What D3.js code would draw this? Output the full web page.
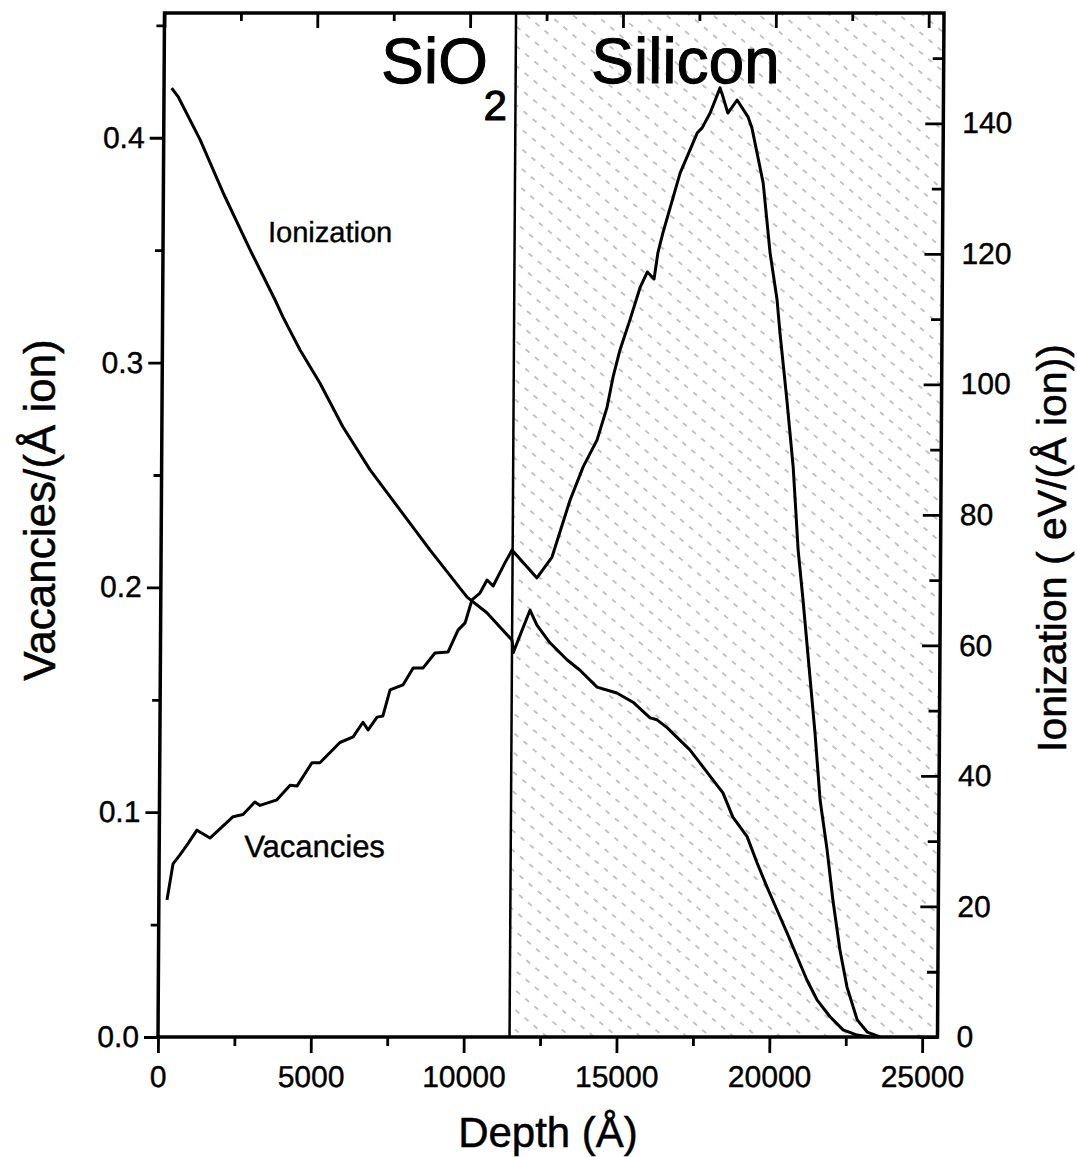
<!DOCTYPE html>
<html>
<head>
<meta charset="utf-8">
<script src="https://cdn.jsdelivr.net/npm/d3@7"></script>
<style>
  body { margin: 0; background: #fff; }
  svg { display: block; }
  text { font-family: "Liberation Sans", Arial, Helvetica, sans-serif; fill: #000; }
</style>
</head>
<body>
<svg id="chart" width="1077" height="1157"></svg>
<script>
// Ionization energy loss, eV/(Å ion), right axis
const ionDepth = [250, 460, 1190, 1950, 2850, 3670, 3940, 4500, 5160, 5920, 6820, 7480, 8800, 10020, 10670, 11500,
  11540, 12080, 12310, 12740, 13300, 13730, 14290, 14940, 15470, 16030, 16260, 16590, 17010, 17340, 17670, 18100,
  18430, 18760, 19230, 19560, 19890, 20220, 20560, 20890, 21220, 21550, 21980, 22410, 22870, 23290];
const ionValue = [145.4, 144.1, 137.5, 129.4, 120.6, 113.0, 110.3, 105.3, 100.2, 93.5, 86.9, 82.8, 74.6, 67.4, 65.0, 60.8,
  58.9, 65.4, 63.1, 60.4, 57.8, 56.2, 53.6, 52.7, 51.3, 48.9, 48.6, 47.4, 45.5, 44.0, 42.0, 39.4,
  37.4, 33.7, 30.7, 26.7, 23.0, 19.5, 15.9, 12.3, 8.7, 5.7, 3.1, 1.1, 0.3, 0];

// Vacancies per Å per ion, left axis
const vacDepth = [266, 455, 680, 940, 1230, 1660, 2410, 2735, 3120, 3290, 3840, 4270, 4500, 4980, 5240, 5890, 6320,
  6640, 6810, 7100, 7290, 7520, 7940, 8270, 8590, 8980, 9410, 9730, 9960, 10180, 10440, 10670, 10870, 11250, 11480,
  12300, 12790, 13370, 13790, 14240, 14560, 14750, 14970, 15290, 15620, 15850, 16070, 16190, 16350, 16900, 17450,
  17610, 17870, 18190, 18290, 18450, 18750, 19110, 19240, 19620, 19860, 20100, 20200, 20440, 20660, 20840, 21010,
  21430, 21610, 21850, 22050, 22290, 22530, 22870, 23200, 23620];
const vacValue = [0.061, 0.077, 0.081, 0.086, 0.092, 0.0885, 0.098, 0.099, 0.1045, 0.103, 0.1055, 0.112, 0.1117, 0.122,
  0.122, 0.131, 0.1335, 0.140, 0.1366, 0.1423, 0.1428, 0.1544, 0.1566, 0.1641, 0.1641, 0.1708, 0.1713, 0.181, 0.1842,
  0.1944, 0.1975, 0.2033, 0.2006, 0.2109, 0.2166, 0.2042, 0.2135, 0.2389, 0.2536, 0.2656, 0.2802, 0.2936, 0.3056,
  0.319, 0.3336, 0.3403, 0.3372, 0.3488, 0.3577, 0.3843, 0.4021, 0.4044, 0.411, 0.4222, 0.4181, 0.411, 0.4168,
  0.4093, 0.4044, 0.3799, 0.3488, 0.3278, 0.3132, 0.2834, 0.2536, 0.2166, 0.1944, 0.1352, 0.1054, 0.0832, 0.0609,
  0.0387, 0.0222, 0.0076, 0.0022, 0];

// SiO2 / Si boundary depth (Å)
const interfaceDepth = 11500;

// Axis ticks
const depthTicks = [0, 5000, 10000, 15000, 20000, 25000];
const depthMinor = [2500, 7500, 12500, 17500, 22500];
const vacTicks = [0.0, 0.1, 0.2, 0.3, 0.4];
const vacMinor = [0.05, 0.15, 0.25, 0.35, 0.45];
const ionTicks = [0, 20, 40, 60, 80, 100, 120, 140];
const ionMinor = [10, 30, 50, 70, 90, 110, 130, 150];

(function draw() {
  const svg = d3.select("#chart");
  const pLeft = 158, pRight = 937.5, pTop = 13, pBottom = 1037;

  const x = d3.scaleLinear().domain([0, 25500]).range([pLeft, pRight]);
  const yVac = d3.scaleLinear().domain([0, 0.4555]).range([pBottom, pTop]);
  const yIon = d3.scaleLinear().domain([0, 156.9]).range([pBottom, pTop]);

  // diagonal hatch for the silicon substrate
  const defs = svg.append("defs");
  const pat = defs.append("pattern")
    .attr("id", "hatch")
    .attr("patternUnits", "userSpaceOnUse")
    .attr("width", 12).attr("height", 15)
    .attr("patternTransform", "rotate(40)");
  pat.append("line")
    .attr("x1", 0).attr("y1", 7.5).attr("x2", 12).attr("y2", 7.5)
    .attr("stroke", "#000").attr("stroke-width", 1)
    .attr("stroke-dasharray", "5 7").attr("stroke-opacity", 0.45);

  // whole frame leans very slightly, as the printed figure does
  const g = svg.append("g")
    .attr("transform", `translate(0,${pBottom}) skewX(-0.364) translate(0,${-pBottom})`);

  g.append("rect")
    .attr("x", x(interfaceDepth)).attr("y", pTop)
    .attr("width", x(25500) - x(interfaceDepth)).attr("height", pBottom - pTop)
    .attr("fill", "url(#hatch)");

  g.append("line")
    .attr("x1", x(interfaceDepth)).attr("x2", x(interfaceDepth))
    .attr("y1", pTop).attr("y2", pBottom)
    .attr("stroke", "#000").attr("stroke-width", 2.5);

  const ionLine = d3.line().x(d => x(d[0])).y(d => yIon(d[1]));
  const vacLine = d3.line().x(d => x(d[0])).y(d => yVac(d[1]));

  g.append("path")
    .datum(d3.zip(ionDepth, ionValue))
    .attr("d", ionLine)
    .attr("fill", "none").attr("stroke", "#000").attr("stroke-width", 3)
    .attr("stroke-linejoin", "round");

  g.append("path")
    .datum(d3.zip(vacDepth, vacValue))
    .attr("d", vacLine)
    .attr("fill", "none").attr("stroke", "#000").attr("stroke-width", 3)
    .attr("stroke-linejoin", "round");

  // axes
  function styleAxis(sel) {
    sel.selectAll("path.domain").remove();
    sel.selectAll(".tick line").attr("stroke", "#000").attr("stroke-width", 2.8);
    sel.selectAll(".tick text").attr("font-size", 30)
      .attr("stroke", "#000").attr("stroke-width", 0.4);
    sel.attr("font-family", null).attr("font-size", null);
  }

  g.append("g").attr("transform", `translate(0,${pBottom})`)
    .call(d3.axisBottom(x).tickValues(depthTicks).tickFormat(d3.format("d")).tickSize(16).tickPadding(13))
    .call(styleAxis);
  g.append("g").attr("transform", `translate(0,${pBottom})`)
    .call(d3.axisBottom(x).tickValues(depthMinor).tickFormat("").tickSize(9))
    .call(styleAxis);

  g.append("g").attr("transform", `translate(0,${pTop})`)
    .call(d3.axisTop(x).tickValues(depthTicks).tickFormat("").tickSize(-15))
    .call(styleAxis);
  g.append("g").attr("transform", `translate(0,${pTop})`)
    .call(d3.axisTop(x).tickValues(depthMinor).tickFormat("").tickSize(-8))
    .call(styleAxis);

  g.append("g").attr("transform", `translate(${pLeft},0)`)
    .call(d3.axisLeft(yVac).tickValues(vacTicks).tickFormat(d3.format(".1f")).tickSize(14).tickPadding(5))
    .call(styleAxis);
  g.append("g").attr("transform", `translate(${pLeft},0)`)
    .call(d3.axisLeft(yVac).tickValues(vacMinor).tickFormat("").tickSize(8))
    .call(styleAxis);

  g.append("g").attr("transform", `translate(${pRight},0)`)
    .call(d3.axisRight(yIon).tickValues(ionTicks).tickFormat(d3.format("d")).tickSize(-18).tickPadding(19))
    .call(styleAxis);
  g.append("g").attr("transform", `translate(${pRight},0)`)
    .call(d3.axisRight(yIon).tickValues(ionMinor).tickFormat("").tickSize(-11))
    .call(styleAxis);

  // frame
  g.append("rect")
    .attr("x", pLeft).attr("y", pTop)
    .attr("width", pRight - pLeft).attr("height", pBottom - pTop)
    .attr("fill", "none").attr("stroke", "#000").attr("stroke-width", 3.5);

  // region labels
  const sio2 = g.append("text").attr("x", 375).attr("y", 83).attr("font-size", 64)
    .attr("stroke", "#000").attr("stroke-width", 1);
  sio2.append("tspan").text("SiO");
  sio2.append("tspan").attr("font-size", 42).attr("dy", 37).attr("dx", -4).text("2");
  g.append("text").attr("x", 585).attr("y", 83).attr("font-size", 64)
    .attr("stroke", "#000").attr("stroke-width", 1).text("Silicon");

  // curve labels
  g.append("text").attr("x", 263).attr("y", 242).attr("font-size", 29)
    .attr("stroke", "#000").attr("stroke-width", 0.4).text("Ionization");
  g.append("text").attr("x", 243).attr("y", 857).attr("font-size", 31)
    .attr("stroke", "#000").attr("stroke-width", 0.4).text("Vacancies");

  // axis titles
  svg.append("text").attr("x", 548).attr("y", 1147).attr("font-size", 42)
    .attr("stroke", "#000").attr("stroke-width", 0.5)
    .attr("text-anchor", "middle").text("Depth (Å)");
  svg.append("text").attr("transform", "translate(55,510) rotate(-90)").attr("font-size", 44)
    .attr("stroke", "#000").attr("stroke-width", 0.5)
    .attr("text-anchor", "middle").text("Vacancies/(Å ion)");
  svg.append("text").attr("transform", "translate(1066,548) rotate(-90)").attr("font-size", 41)
    .attr("stroke", "#000").attr("stroke-width", 0.5)
    .attr("text-anchor", "middle").text("Ionization ( eV/(Å ion))");
})();
</script>
</body>
</html>
